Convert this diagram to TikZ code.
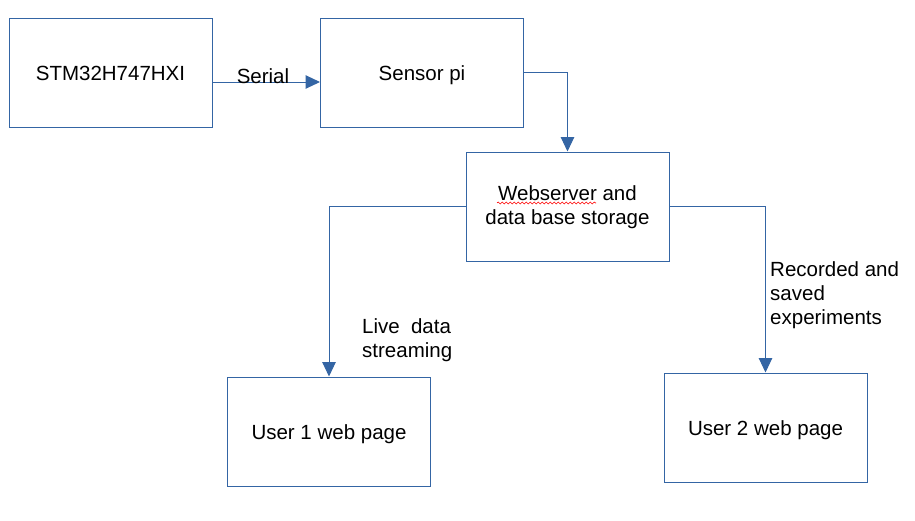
\documentclass[tikz,border=0pt]{standalone}
\usepackage{fontspec}
\setmainfont{Liberation Sans}
\usetikzlibrary{arrows.meta,decorations.pathmorphing}
\definecolor{lineblue}{HTML}{3465A4}
\begin{document}
\begin{tikzpicture}[x=1pt,y=-1pt,
		every node/.style={font=\fontsize{20.5}{24}\selectfont,inner sep=0pt},
		box/.style={draw=lineblue,line width=1pt,minimum width=203pt,minimum height=109pt,align=center,text height=16pt,text depth=0pt},
		link/.style={draw=lineblue,line width=1pt,-{Triangle[width=13.5pt,length=14.5pt]}}]
					\useasboundingbox (0,0) rectangle (915,520);
					\node[box] (stm) at (110.5,72.5) {STM32H747HXI};
					\node[box] (sensor) at (422,72.5) {Sensor pi};
					\node[box,text height=35pt] (web) at (567.5,206.5) {Webserver and\\data base storage};
					\node[box] (user1) at (329,431.5) {User 1 web page};
					\node[box] (user2) at (765.5,427.5) {User 2 web page};
					
					\draw[link] ([yshift=-9.5pt]stm.east) -- ([yshift=-9.5pt]sensor.west);
					\draw[link] (sensor.east) -| (web.north);
					\draw[link] (web.west) -| (user1.north);
					\draw[link] (web.east) -| (user2.north);
					
					\node[anchor=base] (serial) at (263,83) {Serial};
					\node[anchor=west,align=left] (live) at (362,340) {Live\hspace{0.55em}data\\streaming};
					\node[anchor=west,align=left] (recorded) at (770,295.5) {Recorded and\\saved\\experiments};
					
					\draw[red,line width=0.6pt,decorate,decoration={snake,amplitude=1pt,segment length=4pt}] (497,203) -- (596,203);
				\end{tikzpicture}
\end{document}
